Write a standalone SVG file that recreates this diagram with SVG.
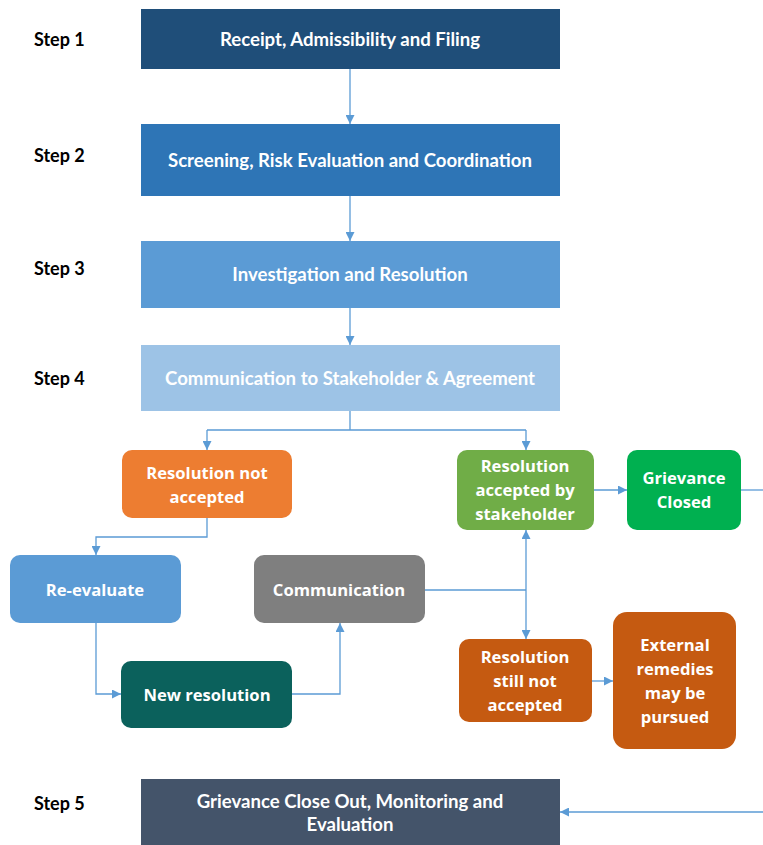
<svg xmlns="http://www.w3.org/2000/svg" width="763" height="845" viewBox="0 0 763 845">
<defs>
<marker id="ah" viewBox="0 0 10 10" refX="10" refY="5" markerWidth="9" markerHeight="9" markerUnits="userSpaceOnUse" orient="auto">
<path d="M0,0 L10,5 L0,10 z" fill="#5B9BD5"/>
</marker>
<style>
.step{font-family:Lato,"Liberation Sans",sans-serif;font-weight:bold;font-size:18px;fill:#000}
.bt{font-family:Lato,"Liberation Sans",sans-serif;font-weight:bold;font-size:18.6px;fill:#fff;text-anchor:middle}
.nt{font-family:"Open Sans","Liberation Sans",sans-serif;font-weight:bold;font-size:16.6px;fill:#fff;text-anchor:middle}
.c{fill:none;stroke:#5B9BD5;stroke-width:1.3}
.ca{fill:none;stroke:#5B9BD5;stroke-width:1.3;marker-end:url(#ah)}
</style>
</defs>
<rect width="763" height="845" fill="#fff"/>
<g id="labels">
<text class="step" x="34" y="46">Step 1</text>
<text class="step" x="34" y="162">Step 2</text>
<text class="step" x="34" y="275">Step 3</text>
<text class="step" x="34" y="385">Step 4</text>
<text class="step" x="34" y="810">Step 5</text>
</g>
<g id="connectors">
<path class="ca" d="M350,69 V124"/>
<path class="ca" d="M350,196 V241"/>
<path class="ca" d="M350,308 V345"/>
<path class="c" d="M350,411 V430 M207,430 H526"/>
<path class="ca" d="M207,430 V450"/>
<path class="ca" d="M526,430 V450"/>
<path class="ca" d="M207,518 V537 H96 V555"/>
<path class="ca" d="M96,623 V694 H121"/>
<path class="ca" d="M292,694 H340 V623"/>
<path class="c" d="M425,590 H526"/>
<path class="ca" d="M526,590 V530"/>
<path class="ca" d="M526,590 V639"/>
<path class="ca" d="M594,490 H627"/>
<path class="c" d="M741,490 H763"/>
<path class="ca" d="M592,681 H613"/>
<path class="ca" d="M763,812 H560"/>
</g>
<g id="step1">
<rect x="141" y="9" width="419" height="60" fill="#1F4E79"/>
<text class="bt" x="350" y="46">Receipt, Admissibility and Filing</text>
</g>
<g id="step2">
<rect x="141" y="124" width="419" height="72" fill="#2E75B6"/>
<text class="bt" x="350" y="167">Screening, Risk Evaluation and Coordination</text>
</g>
<g id="step3">
<rect x="141" y="241" width="419" height="67" fill="#5B9BD5"/>
<text class="bt" x="350" y="281">Investigation and Resolution</text>
</g>
<g id="step4">
<rect x="141" y="345" width="419" height="66" fill="#9DC3E6"/>
<text class="bt" x="350" y="385">Communication to Stakeholder &amp; Agreement</text>
</g>
<g id="step5">
<rect x="141" y="779" width="419" height="66" fill="#44546A"/>
<text class="bt" x="350" y="808">Grievance Close Out, Monitoring and</text>
<text class="bt" x="350" y="831">Evaluation</text>
</g>
<g id="not-accepted">
<rect x="122" y="450" width="170" height="68" rx="10" fill="#ED7D31"/>
<text class="nt" x="207" y="479">Resolution not</text>
<text class="nt" x="207" y="503">accepted</text>
</g>
<g id="accepted">
<rect x="457" y="450" width="137" height="80" rx="10" fill="#70AD47"/>
<text class="nt" x="525" y="472">Resolution</text>
<text class="nt" x="525" y="496">accepted by</text>
<text class="nt" x="525" y="520">stakeholder</text>
</g>
<g id="closed">
<rect x="627" y="450" width="114" height="80" rx="10" fill="#00B050"/>
<text class="nt" x="684" y="484">Grievance</text>
<text class="nt" x="684" y="508">Closed</text>
</g>
<g id="reevaluate">
<rect x="10" y="555" width="171" height="68" rx="10" fill="#5B9BD5"/>
<text class="nt" x="95" y="596">Re-evaluate</text>
</g>
<g id="communication">
<rect x="254" y="555" width="171" height="68" rx="10" fill="#7F7F7F"/>
<text class="nt" x="339" y="596">Communication</text>
</g>
<g id="new-resolution">
<rect x="121" y="661" width="171" height="67" rx="10" fill="#0B615C"/>
<text class="nt" x="207" y="701">New resolution</text>
</g>
<g id="still-not">
<rect x="459" y="639" width="133" height="83" rx="10" fill="#C55A11"/>
<text class="nt" x="525" y="663">Resolution</text>
<text class="nt" x="525" y="687">still not</text>
<text class="nt" x="525" y="711">accepted</text>
</g>
<g id="external">
<rect x="613" y="612" width="123" height="137" rx="14" fill="#C55A11"/>
<text class="nt" x="675" y="651">External</text>
<text class="nt" x="675" y="675">remedies</text>
<text class="nt" x="675" y="699">may be</text>
<text class="nt" x="675" y="723">pursued</text>
</g>
</svg>
